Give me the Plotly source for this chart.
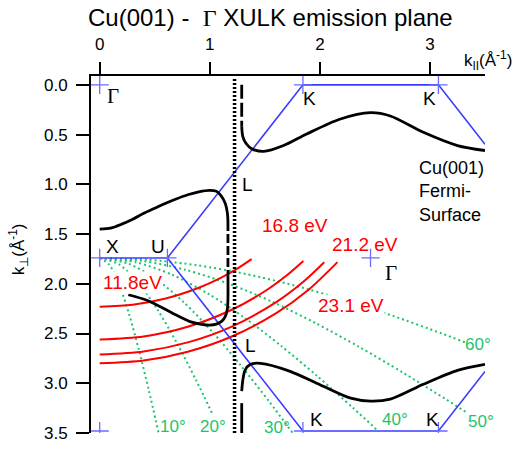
import plotly.graph_objects as go

# ---------------- data (Å^-1) ----------------
# Brillouin-zone boundary in the Gamma-X-U-L-K plane
bz_top_k = [0.0, 0.615, 1.846, 3.077, 3.5]
bz_top_kz = [1.74, 1.74, 0.0, 0.0, 0.598]
bz_bot_k = [0.615, 1.846, 3.077, 3.5]
bz_bot_kz = [1.74, 3.48, 3.48, 2.882]
sym_k = [0.0, 0.0, 0.615, 1.846, 3.077, 2.46, 0.0, 1.846, 3.077]
sym_kz = [0.0, 1.74, 1.74, 0.0, 0.0, 1.74, 3.48, 3.48, 3.48]

# Zone-boundary line at k_par of L
zb_k = [1.225, 1.225]
zb_kz = [-0.06, 3.5]

# Cu(001) Fermi-surface contour
fs_ul_k = [0.0, 0.1, 0.2, 0.3, 0.4, 0.5, 0.6, 0.7, 0.8, 0.9, 1.0, 1.06, 1.1, 1.14, 1.16, 1.165]
fs_ul_kz = [1.45, 1.44, 1.40, 1.35, 1.29, 1.24, 1.19, 1.145, 1.105, 1.075, 1.06, 1.07, 1.11, 1.19, 1.29, 1.38]
fs_um_k = [1.165, 1.165]
fs_um_kz = [1.38, 1.92]
fs_ll_k = [1.165, 1.165, 1.16, 1.14, 1.11, 1.06, 1.0, 0.94, 0.82, 0.67, 0.44, 0.26]
fs_ll_kz = [1.92, 2.15, 2.25, 2.33, 2.375, 2.405, 2.415, 2.41, 2.38, 2.30, 2.17, 2.11]
fs_uv_k = [1.29, 1.29]
fs_uv_kz = [0.0, 0.42]
fs_ur_k = [1.29, 1.30, 1.33, 1.38, 1.49, 1.67, 1.88, 2.18, 2.46, 2.64, 2.94, 3.25, 3.50]
fs_ur_kz = [0.42, 0.52, 0.59, 0.642, 0.669, 0.61, 0.494, 0.346, 0.28, 0.313, 0.477, 0.61, 0.66]
fs_lr_k = [3.50, 3.25, 2.94, 2.64, 2.46, 2.28, 2.03, 1.73, 1.46, 1.37, 1.32, 1.30, 1.29]
fs_lr_kz = [2.81, 2.87, 3.01, 3.16, 3.18, 3.15, 3.03, 2.88, 2.80, 2.81, 2.87, 2.97, 3.08]
fs_lv_k = [1.29, 1.29]
fs_lv_kz = [3.20, 3.50]

# Final-state spheres for the photon energies used
photon_labels = ["11.8eV", "16.8 eV", "21.2 eV", "23.1 eV"]
arc_118_k = [0.0, 0.3, 0.6, 0.9, 1.1, 1.25, 1.38]
arc_118_kz = [2.23, 2.21, 2.148, 2.04, 1.94, 1.847, 1.752]
arc_168_k = [0.0, 0.4, 0.8, 1.2, 1.5, 1.7, 1.85]
arc_168_kz = [2.56, 2.529, 2.432, 2.261, 2.075, 1.914, 1.77]
arc_212_k = [0.0, 0.4, 0.8, 1.2, 1.6, 1.85, 2.04]
arc_212_kz = [2.71, 2.68, 2.589, 2.43, 2.187, 1.98, 1.784]
arc_231_k = [0.0, 0.4, 0.8, 1.2, 1.6, 1.9, 2.16]
arc_231_kz = [2.80, 2.771, 2.683, 2.53, 2.298, 2.057, 1.782]

# Constant emission-angle lines
angle_labels = ["10°", "20°", "30°", "40°", "50°", "60°"]
ang10_k = [0.0, 0.0889, 0.178, 0.267, 0.356, 0.445, 0.535]
ang10_kz = [1.74, 1.811, 2.011, 2.306, 2.665, 3.065, 3.499]
ang20_k = [0.0, 0.1752, 0.3504, 0.5256, 0.7008, 0.876, 1.0306]
ang20_kz = [1.74, 1.805, 1.989, 2.261, 2.595, 2.970, 3.324]
ang30_k = [0.0, 0.2562, 0.5123, 0.7685, 1.0246, 1.2808, 1.5369, 1.7504]
ang30_kz = [1.74, 1.796, 1.953, 2.191, 2.485, 2.820, 3.180, 3.496]
ang40_k = [0.0, 0.3293, 0.6586, 0.988, 1.3173, 1.6466, 1.9759, 2.3052, 2.5296]
ang40_kz = [1.74, 1.784, 1.909, 2.101, 2.343, 2.623, 2.928, 3.252, 3.481]
ang50_k = [0.0, 0.3924, 0.7849, 1.1773, 1.5697, 1.9621, 2.3546, 2.747, 3.1394, 3.339]
ang50_kz = [1.74, 1.771, 1.861, 2.001, 2.182, 2.396, 2.633, 2.888, 3.157, 3.298]
ang60_k = [0.0, 0.4437, 0.8873, 1.331, 1.7746, 2.2183, 2.6619, 3.1056, 3.341]
ang60_kz = [1.74, 1.759, 1.814, 1.902, 2.019, 2.161, 2.322, 2.499, 2.598]

y_tickvals = [0.0, 0.5, 1.0, 1.5, 2.0, 2.5, 3.0, 3.5]
y_ticktext = ["0.0", "0.5", "1.0", "1.5", "2.0", "2.5", "3.0", "3.5"]
x_tickvals = [0, 1, 2, 3]

# ---------------- styles ----------------
BLUE = "#3c3cff"
BLUE_MARK = "#6a6aff"
RED = "#ff0000"
GREEN = "#1cc46a"
SANS = "Liberation Sans, Arial, Helvetica, sans-serif"
SERIF = "Liberation Serif, Times New Roman, serif"

fig = go.Figure()


def add_line(x, y, color, width, dash="solid", shape="linear"):
    fig.add_trace(go.Scatter(x=x, y=y, mode="lines", hoverinfo="skip",
                             line=dict(color=color, width=width, dash=dash,
                                       shape=shape, smoothing=0.8)))


# emission-angle lines
for ax_, ay_ in [(ang10_k, ang10_kz), (ang20_k, ang20_kz), (ang30_k, ang30_kz),
                 (ang40_k, ang40_kz), (ang50_k, ang50_kz), (ang60_k, ang60_kz)]:
    add_line(ax_, ay_, GREEN, 2, dash="2px,3px", shape="spline")

# final-state spheres
for ax_, ay_ in [(arc_118_k, arc_118_kz), (arc_168_k, arc_168_kz),
                 (arc_212_k, arc_212_kz), (arc_231_k, arc_231_kz)]:
    add_line(ax_, ay_, RED, 2, shape="spline")

# Brillouin zone
add_line(bz_top_k, bz_top_kz, BLUE, 1.6)
add_line(bz_bot_k, bz_bot_kz, BLUE, 1.6)
fig.add_trace(go.Scatter(x=sym_k, y=sym_kz, mode="markers", hoverinfo="skip",
                         marker=dict(symbol="cross-thin", size=13,
                                     line=dict(color=BLUE_MARK, width=1.3))))

# zone-boundary dotted line
add_line(zb_k, zb_kz, "black", 3.5, dash="2px,2px")

# Fermi surface
add_line(fs_ul_k, fs_ul_kz, "black", 2.8, shape="spline")
add_line(fs_um_k, fs_um_kz, "black", 2.8, dash="9px,3px")
add_line(fs_ll_k, fs_ll_kz, "black", 2.8, shape="spline")
add_line(fs_uv_k, fs_uv_kz, "black", 2.8, dash="14px,4px")
add_line(fs_ur_k, fs_ur_kz, "black", 2.8, shape="spline")
add_line(fs_lr_k, fs_lr_kz, "black", 2.8, shape="spline")
add_line(fs_lv_k, fs_lv_kz, "black", 2.8)

# ---------------- annotations ----------------
ann = []


def label(x, y, text, color="black", size=19, family=SANS, bg=None,
          xanchor="center", align="center"):
    d = dict(x=x, y=y, xref="x", yref="y", text=text, showarrow=False,
             font=dict(color=color, size=size, family=family),
             xanchor=xanchor, yanchor="middle", align=align)
    if bg:
        d.update(bgcolor=bg, borderpad=0)
    ann.append(d)


label(0.12, 0.11, "Γ", family=SERIF, size=21)
label(2.65, 1.89, "Γ", family=SERIF, size=21)
label(0.115, 1.63, "X")
label(0.53, 1.63, "U")
label(1.34, 1.00, "L")
label(1.37, 2.62, "L")
label(1.91, 0.14, "K")
label(3.00, 0.14, "K")
label(1.97, 3.36, "K")
label(3.02, 3.36, "K")
label(2.88, 1.07, "Cu(001)<br>Fermi-<br>Surface", size=18, xanchor="left", align="left")

label(0.30, 1.99, photon_labels[0], color=RED, size=19, bg="white")
label(1.77, 1.41, photon_labels[1], color=RED, size=19)
label(2.41, 1.60, photon_labels[2], color=RED, size=19)
label(2.28, 2.22, photon_labels[3], color=RED, size=19, bg="white")

for (gx, gy), t in zip([(0.67, 3.43), (1.03, 3.43), (1.61, 3.44),
                        (2.68, 3.36), (3.46, 3.38), (3.44, 2.61)], angle_labels):
    label(gx, gy, t, color=GREEN, size=17)

# title and axis titles (paper coordinates)
ann.append(dict(xref="paper", yref="paper", x=0.4556, y=1.1625,
                text="Cu(001) - &nbsp;<span style='font-family:Liberation Serif'>Γ</span> XULK emission plane",
                showarrow=False, xanchor="center", yanchor="middle",
                font=dict(size=24, family=SANS, color="black")))
ann.append(dict(xref="paper", yref="paper", x=1.008, y=1.044,
                text="k<sub>II</sub>(Å<sup>-1</sup>)", showarrow=False,
                xanchor="center", yanchor="middle",
                font=dict(size=17, family=SANS, color="black")))
ann.append(dict(xref="paper", yref="paper", x=-0.185, y=0.515,
                text="k<sub>⊥</sub>(Å<sup>-1</sup>)", showarrow=False,
                textangle=-90, xanchor="center", yanchor="middle",
                font=dict(size=17, family=SANS, color="black")))

fig.update_layout(
    width=517, height=455,
    margin=dict(l=91, r=32, t=76, b=16),
    plot_bgcolor="white", paper_bgcolor="white",
    showlegend=False,
    font=dict(family=SANS, size=17, color="black"),
    annotations=ann,
    xaxis=dict(range=[-0.079, 3.5], side="top", showgrid=False, zeroline=False,
               showline=True, linecolor="black", linewidth=2,
               ticks="outside", ticklen=12, tickwidth=2, tickcolor="black",
               tickvals=x_tickvals, ticklabelstandoff=5,
               tickfont=dict(size=17)),
    yaxis=dict(range=[3.5, -0.089], showgrid=False, zeroline=False,
               showline=True, linecolor="black", linewidth=2,
               ticks="outside", ticklen=13, tickwidth=2, tickcolor="black",
               tickvals=y_tickvals, ticktext=y_ticktext, ticklabelstandoff=5,
               tickfont=dict(size=17)),
)

fig.write_html("out.html")
